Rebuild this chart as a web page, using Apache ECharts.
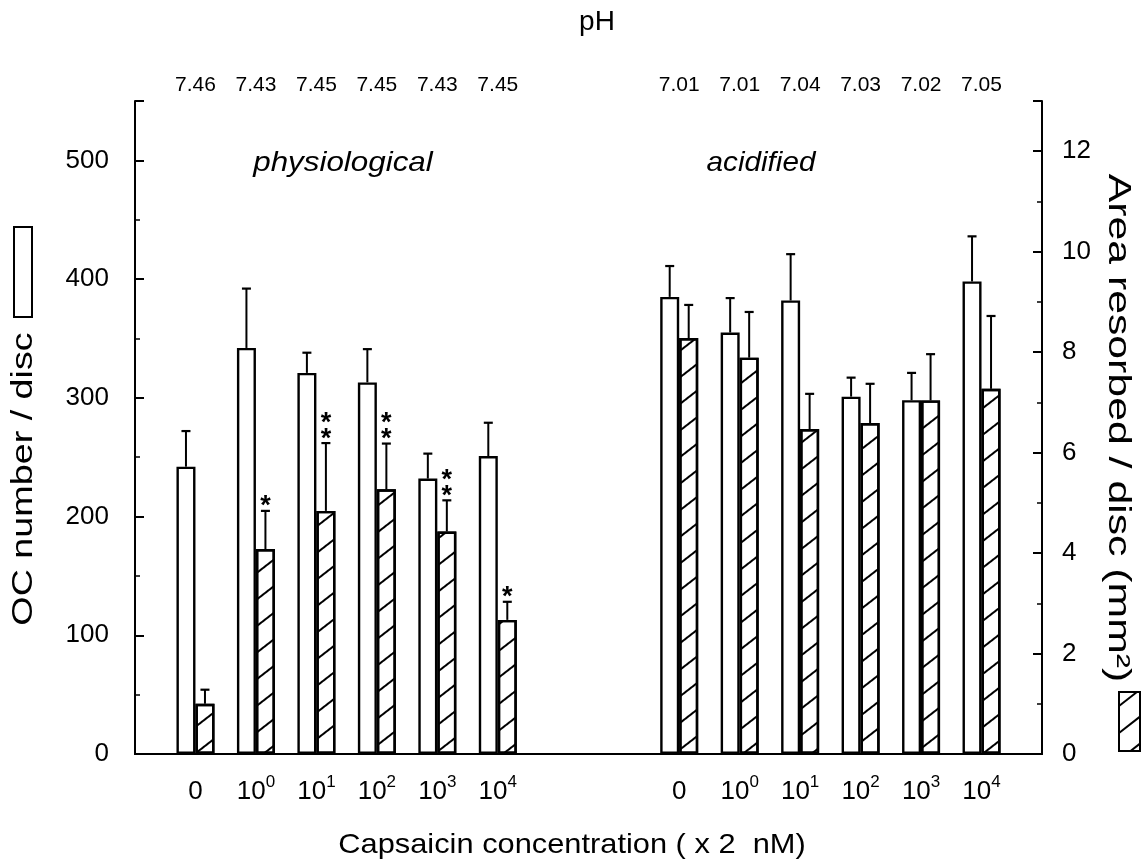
<!DOCTYPE html>
<html>
<head>
<meta charset="utf-8">
<script src="https://cdn.jsdelivr.net/npm/echarts@6/dist/echarts.min.js"></script>
<style>
html,body{margin:0;padding:0;background:#fff;}
#c{width:1146px;height:867px;}
</style>
</head>
<body>
<div id="c"></div>
<script>
// ---- data ----
const concLabels = ['0', '10^0', '10^1', '10^2', '10^3', '10^4'];
const phPhys = ['7.46', '7.43', '7.45', '7.45', '7.43', '7.45'];
const phAcid = ['7.01', '7.01', '7.04', '7.03', '7.02', '7.05'];
// OC number / disc (left axis, open bars)
const ocPhys = [242, 342, 321, 313, 232, 251];
const ocPhysErr = [30, 50, 17, 28, 21, 28];
const ocAcid = [385, 355, 382, 301, 298, 398];
const ocAcidErr = [26, 29, 39, 16, 23, 38];
// Area resorbed / disc, mm2 (right axis, hatched bars)
const areaPhys = [1.0, 4.08, 4.84, 5.27, 4.43, 2.67];
const areaPhysErr = [0.28, 0.76, 1.35, 0.91, 0.62, 0.36];
const areaAcid = [8.28, 7.89, 6.47, 6.59, 7.04, 7.27];
const areaAcidErr = [0.66, 0.91, 0.70, 0.78, 0.92, 1.45];
// significance stars above hatched bars
const starsPhys = [0, 1, 2, 2, 2, 1];
const starsAcid = [0, 0, 0, 0, 0, 0];
// axis ticks
const leftTicks = {min: 0, max: 550, interval: 100, minor: 50};
const rightTicks = {min: 0, max: 13, interval: 2, minor: 1};

// slot layout along x: 1 blank, 6 physiological, 2 blank, 6 acidified, 1 blank
const physSlots = [1, 2, 3, 4, 5, 6];
const acidSlots = [9, 10, 11, 12, 13, 14];
const nSlots = 16;

const catKeys = [];
const bottomLabels = [];
const topLabels = [];
for (let i = 0; i < nSlots; i++) { catKeys.push('s' + i); bottomLabels.push(''); topLabels.push(''); }
physSlots.forEach((s, k) => { bottomLabels[s] = concLabels[k]; topLabels[s] = phPhys[k]; });
acidSlots.forEach((s, k) => { bottomLabels[s] = concLabels[k]; topLabels[s] = phAcid[k]; });

function fillSlots(a, b) {
  const arr = new Array(nSlots).fill(null);
  physSlots.forEach((s, k) => arr[s] = a[k]);
  acidSlots.forEach((s, k) => arr[s] = b[k]);
  return arr;
}
const ocData = fillSlots(ocPhys, ocAcid);
const areaData = fillSlots(areaPhys, areaAcid);

function errData(vals1, errs1, vals2, errs2, side, st1, st2) {
  const out = [];
  physSlots.forEach((s, k) => out.push([s, vals1[k], errs1[k], side, st1 ? st1[k] : 0]));
  acidSlots.forEach((s, k) => out.push([s, vals2[k], errs2[k], side, st2 ? st2[k] : 0]));
  return out;
}

const FONT = 'Liberation Sans';
const BAR_W = 19;
const CAP = 4.5;

function renderErr(params, api) {
  const idx = api.value(0), v = api.value(1), e = api.value(2), side = api.value(3), ns = api.value(4);
  const b = api.coord([idx, v]);
  const t = api.coord([idx, v + e]);
  const x = b[0] + side * BAR_W / 2;
  const ch = [
    {type: 'line', shape: {x1: x, y1: b[1], x2: x, y2: t[1]}, style: {stroke: '#000', lineWidth: 2}},
    {type: 'line', shape: {x1: x - CAP, y1: t[1], x2: x + CAP, y2: t[1]}, style: {stroke: '#000', lineWidth: 2.2}}
  ];
  for (let k = 0; k < ns; k++) {
    ch.push({type: 'text', x: x, y: t[1] - 4 - k * 16,
      style: {text: '*', font: 'bold 27px "' + FONT + '"', fill: '#000', align: 'center', verticalAlign: 'middle'}});
  }
  return {type: 'group', children: ch};
}

function fmtBottom(v, i) {
  const s = bottomLabels[i] || '';
  const m = s.match(/^10\^(\d)$/);
  if (m) return '10{s|' + m[1] + '}';
  return s;
}

const chart = echarts.init(document.getElementById('c'), null, {renderer: 'canvas'});

const axisLineStyle = {color: '#000', width: 2};

// legend glyph hatch lines for the right box
const hb = {x: 1119, y: 692, w: 21, h: 59};
const hatchLines = [];
(function () {
  const slope = 0.78, spacing = 27;
  for (let c = hb.y - 40; c < hb.y + hb.h + 40; c += spacing) {
    let x1 = hb.x, y1 = c, x2 = hb.x + hb.w, y2 = c - slope * hb.w;
    function clip(px, py, qx, qy) {
      const top = hb.y, bot = hb.y + hb.h;
      if (py > bot) { const f = (py - bot) / (py - qy); px = px + f * (qx - px); py = bot; }
      if (qy < top) { const f = (top - qy) / (py - qy); qx = qx - f * (qx - px); qy = top; }
      return [px, py, qx, qy];
    }
    if (y1 < hb.y || y2 > hb.y + hb.h) continue;
    const r = clip(x1, y1, x2, y2);
    if (r[1] <= r[3]) continue;
    hatchLines.push({type: 'line', shape: {x1: r[0], y1: r[1], x2: r[2], y2: r[3]}, style: {stroke: '#000', lineWidth: 2}});
  }
})();

const option = {
  animation: false,
  backgroundColor: '#fff',
  textStyle: {fontFamily: FONT, color: '#000'},
  grid: {left: 135, right: 104, top: 101, bottom: 113, containLabel: false},
  xAxis: [
    {
      type: 'category', data: catKeys, boundaryGap: false, position: 'bottom',
      axisLine: {show: true, lineStyle: axisLineStyle}, axisTick: {show: false}, splitLine: {show: false},
      axisLabel: {interval: 0, formatter: fmtBottom, color: '#000', fontFamily: FONT, fontSize: 26,
        margin: 20, lineHeight: 36, rich: {s: {fontSize: 17, fontFamily: FONT, color: '#000', verticalAlign: 'top', lineHeight: 36}}}
    },
    {
      type: 'category', data: catKeys, boundaryGap: false, position: 'top',
      axisLine: {show: true, lineStyle: axisLineStyle}, axisTick: {show: false}, splitLine: {show: false},
      axisLabel: {interval: 0, formatter: (v, i) => topLabels[i] || '', color: '#000', fontFamily: FONT, fontSize: 21, margin: 5}
    }
  ],
  yAxis: [
    {
      type: 'value', position: 'left', min: leftTicks.min, max: leftTicks.max, interval: leftTicks.interval,
      axisLine: {show: true, lineStyle: axisLineStyle},
      axisTick: {show: true, inside: true, length: 9, lineStyle: {color: '#000', width: 2}},
      splitLine: {show: false},
      axisLabel: {formatter: v => (v % 100 === 0 ? String(v) : ''), color: '#000', fontFamily: FONT, fontSize: 26, margin: 26}
    },
    {
      type: 'value', position: 'right', min: rightTicks.min, max: rightTicks.max, interval: rightTicks.interval,
      axisLine: {show: true, lineStyle: axisLineStyle},
      axisTick: {show: true, inside: true, length: 9, lineStyle: {color: '#000', width: 2}},
      splitLine: {show: false},
      axisLabel: {formatter: v => (v % 2 === 0 ? String(v) : ''), color: '#000', fontFamily: FONT, fontSize: 26, margin: 20}
    },
    {
      type: 'value', position: 'left', min: leftTicks.min, max: leftTicks.max, interval: leftTicks.minor,
      axisLine: {show: false}, axisLabel: {show: false}, splitLine: {show: false},
      axisTick: {show: true, inside: true, length: 5, lineStyle: {color: '#000', width: 1.5}}
    },
    {
      type: 'value', position: 'right', min: rightTicks.min, max: rightTicks.max, interval: rightTicks.minor,
      axisLine: {show: false}, axisLabel: {show: false}, splitLine: {show: false},
      axisTick: {show: true, inside: true, length: 5, lineStyle: {color: '#000', width: 1.5}}
    }
  ],
  series: [
    {
      type: 'bar', name: 'OC number', xAxisIndex: 0, yAxisIndex: 0, data: ocData,
      barWidth: BAR_W, barGap: '0%',
      itemStyle: {color: '#fff', borderColor: '#000', borderWidth: 2.4}
    },
    {
      type: 'bar', name: 'Area resorbed', xAxisIndex: 0, yAxisIndex: 1, data: areaData,
      barWidth: BAR_W, barGap: '0%',
      itemStyle: {color: '#fff', borderColor: '#000', borderWidth: 2.4,
        decal: {symbol: 'rect', symbolSize: 1, color: '#000', dashArrayX: [1, 0], dashArrayY: [2, 19], rotation: -0.66}}
    },
    {
      type: 'custom', name: 'OC err', xAxisIndex: 0, yAxisIndex: 0, clip: false, z: 5,
      renderItem: renderErr,
      data: errData(ocPhys, ocPhysErr, ocAcid, ocAcidErr, -1)
    },
    {
      type: 'custom', name: 'Area err', xAxisIndex: 0, yAxisIndex: 1, clip: false, z: 5,
      renderItem: renderErr,
      data: errData(areaPhys, areaPhysErr, areaAcid, areaAcidErr, 1, starsPhys, starsAcid)
    }
  ],
  graphic: [
    {type: 'text', x: 597, y: 22, style: {text: 'pH', font: '28px "' + FONT + '"', fill: '#000', align: 'center', verticalAlign: 'middle'}},
    {type: 'text', x: 343, y: 163, scaleX: 1.12, style: {text: 'physiological', font: 'italic 28px "' + FONT + '"', fill: '#000', align: 'center', verticalAlign: 'middle'}},
    {type: 'text', x: 761, y: 163, scaleX: 1.06, style: {text: 'acidified', font: 'italic 28px "' + FONT + '"', fill: '#000', align: 'center', verticalAlign: 'middle'}},
    {type: 'text', x: 572, y: 845, scaleX: 1.1, style: {text: 'Capsaicin concentration ( x 2  nM)', font: '28px "' + FONT + '"', fill: '#000', align: 'center', verticalAlign: 'middle'}},
    {type: 'text', x: 24, y: 479, rotation: Math.PI / 2, scaleX: 1.3, style: {text: 'OC number / disc', font: '29px "' + FONT + '"', fill: '#000', align: 'center', verticalAlign: 'middle'}},
    {type: 'text', x: 1118, y: 428, rotation: -Math.PI / 2, scaleX: 1.38, style: {text: 'Area resorbed / disc (mm²)', font: '31px "' + FONT + '"', fill: '#000', align: 'center', verticalAlign: 'middle'}},
    {type: 'rect', shape: {x: 14, y: 227, width: 18, height: 90}, style: {fill: '#fff', stroke: '#000', lineWidth: 2}},
    {type: 'group', children: [{type: 'rect', shape: {x: hb.x, y: hb.y, width: hb.w, height: hb.h}, style: {fill: '#fff', stroke: '#000', lineWidth: 2}}].concat(hatchLines)}
  ]
};
chart.setOption(option);
</script>
</body>
</html>
